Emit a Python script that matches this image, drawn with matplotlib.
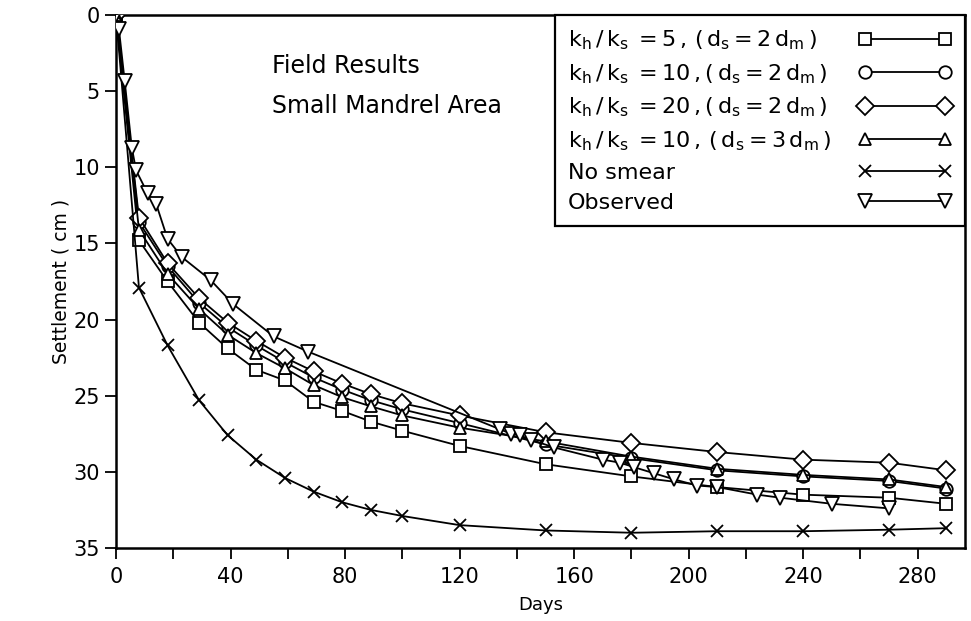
import matplotlib
matplotlib.use("Agg")
import matplotlib.pyplot as plt
from matplotlib.ticker import MultipleLocator

plt.rcParams['mathtext.default'] = 'regular'
plt.rcParams['font.family'] = ['DejaVu Sans']

# ---- data ----
days_model = [0, 8, 18, 29, 39, 49, 59, 69, 79, 89, 100, 120, 150, 180, 210, 240, 270, 290]
k5_ds2 = [0, 14.8, 17.5, 20.2, 21.9, 23.3, 24.0, 25.4, 26.0, 26.7, 27.3, 28.3, 29.5, 30.3, 31.0, 31.5, 31.7, 32.1]
k10_ds2 = [0, 13.6, 16.5, 18.9, 20.5, 21.7, 22.8, 23.8, 24.6, 25.3, 25.9, 26.8, 28.2, 29.1, 29.9, 30.3, 30.6, 31.1]
k20_ds2 = [0, 13.3, 16.3, 18.6, 20.2, 21.4, 22.5, 23.4, 24.2, 24.9, 25.5, 26.3, 27.4, 28.1, 28.7, 29.2, 29.4, 29.9]
k10_ds3 = [0, 14.1, 17.0, 19.3, 21.0, 22.2, 23.2, 24.3, 25.1, 25.7, 26.3, 27.1, 28.0, 29.0, 29.8, 30.2, 30.5, 31.0]
no_smear = [0, 17.9, 21.7, 25.3, 27.6, 29.2, 30.4, 31.3, 32.0, 32.5, 32.9, 33.5, 33.85, 34.0, 33.9, 33.9, 33.8, 33.7]

days_obs = [0, 1, 3, 5.5, 7, 11, 14, 18, 23, 33, 41, 55, 67, 134, 138, 141, 145, 153,
            170, 176, 181, 188, 195, 203, 210, 224, 232, 250, 270]
observed = [0, 0.9, 4.3, 8.7, 10.2, 11.7, 12.4, 14.7, 15.9, 17.4, 19.0, 21.1, 22.1, 27.2, 27.5, 27.6, 27.9, 28.4,
            29.2, 29.4, 29.7, 30.1, 30.5, 30.9, 31.0, 31.5, 31.7, 32.1, 32.4]

labels = [r'$k_h\,/\,k_s\;=5\,,\,(\,d_s = 2\,d_m\,)$',
          r'$k_h\,/\,k_s\;=10\,,(\,d_s = 2\,d_m\,)$',
          r'$k_h\,/\,k_s\;=20\,,(\,d_s = 2\,d_m\,)$',
          r'$k_h\,/\,k_s\;=10\,,\,(\,d_s = 3\,d_m\,)$',
          'No smear', 'Observed']

xticks = [0, 40, 80, 120, 160, 200, 240, 280]
yticks = [0, 5, 10, 15, 20, 25, 30, 35]

fig = plt.figure(figsize=(9.71, 6.21), dpi=100)
ax = fig.add_axes([0.1195, 0.1176, 0.8743, 0.8582])

lw = 1.3
common = dict(color='black', lw=lw, mfc='white', mec='black', mew=1.3)
ax.plot(days_model, k5_ds2, marker='s', ms=9, label=labels[0], **common, zorder=3)
ax.plot(days_model, k10_ds2, marker='o', ms=9, label=labels[1], **common, zorder=3)
ax.plot(days_model, k20_ds2, marker='D', ms=9, label=labels[2], **common, zorder=3)
ax.plot(days_model, k10_ds3, marker='^', ms=9, label=labels[3], **common, zorder=3)
ax.plot(days_model, no_smear, marker='x', ms=8, label=labels[4], **common, zorder=3)
ax.plot(days_obs, observed, marker='v', ms=10, label=labels[5], **common, zorder=3)

ax.set_xlim(0, 296.5)
ax.set_ylim(35, 0)
ax.set_xticks(xticks)
ax.xaxis.set_minor_locator(MultipleLocator(20))
ax.set_yticks(yticks)
ax.tick_params(which='both', direction='out', length=8, width=1.3, labelsize=15, colors='black')
ax.tick_params(axis='x', pad=6)
for s in ax.spines.values():
    s.set_linewidth(1.8)

ax.set_xlabel('Days', fontsize=13, labelpad=6)
ax.set_ylabel('Settlement ( cm )', fontsize=13.5, labelpad=2)

ax.text(0.184, 0.905, 'Field Results', transform=ax.transAxes, fontsize=17, va='center', ha='left')
ax.text(0.184, 0.830, 'Small Mandrel Area', transform=ax.transAxes, fontsize=17, va='center', ha='left')

leg = ax.legend(loc='upper right', bbox_to_anchor=(1.0, 1.0), borderaxespad=0, fontsize=16,
                markerfirst=False, numpoints=2, handlelength=4.2, fancybox=False,
                edgecolor='black', framealpha=1, labelspacing=0.45, borderpad=0.6, handletextpad=1.0)
leg.get_frame().set_linewidth(1.6)

# left-align legend texts: stretch every row to the same width
fig.canvas.draw()
renderer = fig.canvas.get_renderer()
try:
    col = leg._legend_handle_box.get_children()[0]
    rows = col.get_children()
    wmax = max(r.get_bbox(renderer).width for r in rows) + 5
    for r in rows:
        r.mode = 'expand'
        r.width = wmax
except Exception:
    pass

fig.savefig('out.png', dpi=100)
